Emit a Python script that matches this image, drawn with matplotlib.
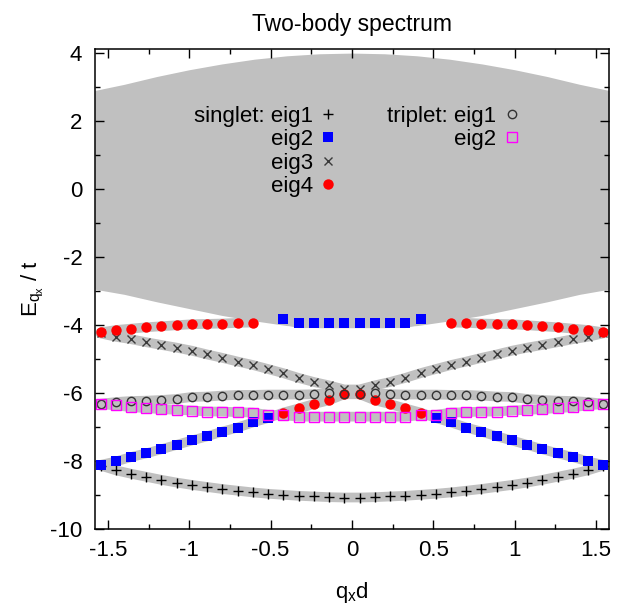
"""Two-body spectrum: singlet/triplet bound states below the scattering continuum."""
import numpy as np
import matplotlib
matplotlib.use("Agg")
import matplotlib.pyplot as plt
from matplotlib.ticker import MultipleLocator, FormatStrFormatter

plt.rcParams["font.family"] = ["Liberation Sans", "DejaVu Sans"]
plt.rcParams["mathtext.fontset"] = "custom"
plt.rcParams["mathtext.rm"] = "Liberation Sans"
plt.rcParams["mathtext.it"] = "Liberation Sans"
plt.rcParams["axes.unicode_minus"] = False

nan = np.nan
# momentum grid q_x d
q = [-1.545, -1.451, -1.358, -1.264, -1.171, -1.077, -0.983, -0.890, -0.796, -0.702, -0.609, -0.515,
     -0.422, -0.328, -0.234, -0.141, -0.047, 0.047, 0.141, 0.234, 0.328, 0.422, 0.515, 0.609,
     0.702, 0.796, 0.890, 0.983, 1.077, 1.171, 1.264, 1.358, 1.451, 1.545]

# singlet eigenvalues
s_eig1 = [-8.14, -8.28, -8.38, -8.47, -8.56, -8.64, -8.71, -8.77, -8.83, -8.88, -8.93, -8.97,
          -9.00, -9.03, -9.05, -9.07, -9.08, -9.08, -9.07, -9.05, -9.03, -9.00, -8.97, -8.93,
          -8.88, -8.83, -8.77, -8.71, -8.64, -8.56, -8.47, -8.38, -8.28, -8.14]
s_eig2 = [-8.12, -8.02, -7.89, -7.78, -7.66, -7.53, -7.40, -7.28, -7.14, -7.02, -6.87, -6.74,
          -3.84, -3.95, -3.95, -3.95, -3.95, -3.95, -3.95, -3.95, -3.95, -3.84, -6.74, -6.87,
          -7.02, -7.14, -7.28, -7.40, -7.53, -7.66, -7.78, -7.89, -8.02, -8.12]
s_eig3 = [-4.25, -4.35, -4.42, -4.51, -4.59, -4.67, -4.76, -4.87, -4.97, -5.08, -5.18, -5.30,
          -5.42, -5.56, -5.68, -5.78, -5.90, -5.90, -5.78, -5.68, -5.56, -5.42, -5.30, -5.18,
          -5.08, -4.97, -4.87, -4.76, -4.67, -4.59, -4.51, -4.42, -4.35, -4.25]
s_eig4 = [-4.22, -4.15, -4.11, -4.07, -4.04, -4.01, -3.98, -3.97, -3.96, -3.94, -3.93, nan,
          -6.58, -6.46, -6.33, -6.22, -6.04, -6.04, -6.22, -6.33, -6.46, -6.58, nan, -3.93,
          -3.94, -3.96, -3.97, -3.98, -4.01, -4.04, -4.07, -4.11, -4.15, -4.22]
# triplet eigenvalues
t_eig1 = [-6.32, -6.27, -6.24, -6.23, -6.21, -6.18, -6.12, -6.11, -6.08, -6.06, -6.06, -6.05,
          -6.05, -6.05, -6.04, -6.00, -6.04, -6.04, -6.00, -6.04, -6.05, -6.05, -6.05, -6.06,
          -6.06, -6.08, -6.11, -6.12, -6.18, -6.21, -6.23, -6.24, -6.27, -6.32]
t_eig2 = [-6.33, -6.37, -6.42, -6.45, -6.48, -6.50, -6.52, -6.55, -6.55, -6.57, -6.58, -6.65,
          -6.66, -6.70, -6.70, -6.70, -6.70, -6.70, -6.70, -6.70, -6.70, -6.66, -6.65, -6.58,
          -6.57, -6.55, -6.55, -6.52, -6.50, -6.48, -6.45, -6.42, -6.37, -6.33]

# two-particle continuum edges
q_band = [-1.58, -1.4, -1.2, -1.0, -0.8, -0.6, -0.4, -0.2, 0.0, 0.2, 0.4, 0.6, 0.8, 1.0, 1.2, 1.4, 1.58]
band_top = [2.90, 3.08, 3.31, 3.51, 3.68, 3.82, 3.92, 3.98, 4.00, 3.98, 3.92, 3.82, 3.68, 3.51, 3.31, 3.08, 2.90]
band_bot = [-2.95, -3.10, -3.32, -3.52, -3.72, -3.88, -4.02, -4.08, -4.08, -4.08, -4.02, -3.88, -3.72, -3.52,
            -3.32, -3.10, -2.95]

GRAY = "#c0c0c0"
fig = plt.figure(figsize=(6.24, 6.05), dpi=100)
ax = fig.add_axes([0.152, 0.126, 0.824, 0.793])

ax.fill_between(q_band, band_bot, band_top, color=GRAY, lw=0, zorder=1)

# gray guide curves under the points (branches follow the crossings)
e2, e4 = np.array(s_eig2), np.array(s_eig4)
lower = np.where(e2 > -5, e4, e2)
upper = np.where(e2 > -5, e2, e4)
for ys in [s_eig1, lower, upper, s_eig3, t_eig1, t_eig2]:
    ax.plot(q, ys, color=GRAY, lw=7, solid_capstyle="round", zorder=2)

h1, = ax.plot(q, s_eig1, ls="none", marker="+", ms=7, mew=1.0, color="black", label="singlet: eig1", zorder=3)
h2, = ax.plot(q, s_eig2, ls="none", marker="s", ms=7, mew=0, color="#0000ff", label="eig2", zorder=4)
h3, = ax.plot(q, s_eig3, ls="none", marker="x", ms=6, mew=1.0, color="#3a3a3a", label="eig3", zorder=5)
h4, = ax.plot(q, s_eig4, ls="none", marker="o", ms=7.5, mew=0, color="#ff0000", label="eig4", zorder=6)
t1, = ax.plot(q, t_eig1, ls="none", marker="o", ms=6, mew=1.0, mfc="none", color="#333333",
              label="triplet: eig1", zorder=7)
t2, = ax.plot(q, t_eig2, ls="none", marker="s", ms=6.5, mew=1.0, mfc="none", color="#ff00ff",
              label="eig2", zorder=8)

kw = dict(loc="upper right", frameon=False, markerfirst=False, handlelength=0.6, handletextpad=0.4,
          labelspacing=0.11, borderpad=0, borderaxespad=0, fontsize=16)
leg1 = ax.legend(handles=[h1, h2, h3, h4], bbox_to_anchor=(0.467, 0.882), **kw)
ax.add_artist(leg1)
ax.legend(handles=[t1, t2], bbox_to_anchor=(0.824, 0.882), **kw)

ax.set_xlim(-1.58, 1.58)
ax.set_ylim(-10, 4.12)
ax.xaxis.set_major_locator(MultipleLocator(0.5))
ax.xaxis.set_minor_locator(MultipleLocator(0.25))
ax.xaxis.set_major_formatter(FormatStrFormatter("%g"))
ax.yaxis.set_major_locator(MultipleLocator(2))
ax.yaxis.set_minor_locator(MultipleLocator(1))
ax.tick_params(which="both", direction="in", top=True, right=True, width=1.0, labelsize=16)
ax.tick_params(which="major", length=6.5)
ax.tick_params(which="minor", length=3.5)
ax.tick_params(axis="x", pad=8)
ax.tick_params(axis="y", pad=9)
for s in ax.spines.values():
    s.set_linewidth(1.1)
    s.set_zorder(10)

ax.set_title("Two-body spectrum", fontsize=16.5, pad=13)
ax.set_xlabel(r"q$_{\mathrm{x}}$d", fontsize=16)
ax.set_ylabel(r"E$_{\mathrm{q}_{\mathrm{x}}}$ / t", fontsize=16)
ax.xaxis.set_label_coords(0.5, -0.106)
ax.yaxis.set_label_coords(-0.095, 0.5)

fig.savefig("out.png", dpi=100)
